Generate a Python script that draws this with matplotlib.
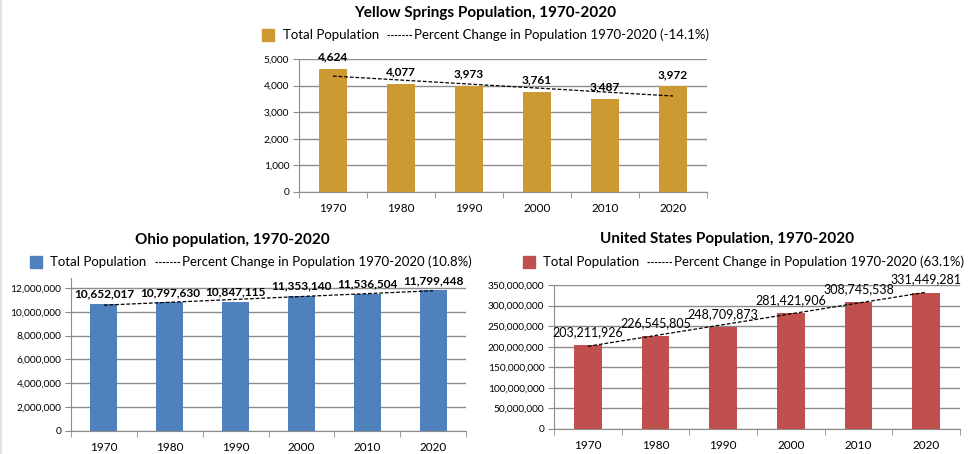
import numpy as np
import matplotlib
matplotlib.use("Agg")
import matplotlib.pyplot as plt
from matplotlib.lines import Line2D
from matplotlib.ticker import FuncFormatter, FixedLocator

plt.rcParams['font.family'] = ['Lato', 'DejaVu Sans']

years = ['1970', '1980', '1990', '2000', '2010', '2020']

ys_pop = [4624, 4077, 3973, 3761, 3487, 3972]
ohio_pop = [10652017, 10797630, 10847115, 11353140, 11536504, 11799448]
us_pop = [203211926, 226545805, 248709873, 281421906, 308745538, 331449281]

ys_change = '-14.1%'
ohio_change = '10.8%'
us_change = '63.1%'

gold = '#CC9933'
blue = '#4F81BD'
red = '#C0504D'
grid_c = '#8C8C8C'

fig = plt.figure(figsize=(9.78, 4.54), dpi=100)
# faint frame line on the left edge
fig.add_artist(Line2D([0.0015, 0.0015], [0, 1], color='#DDDDDD', lw=1.2,
                      transform=fig.transFigure))


def panel(rect, vals, color, ymax, step, title, change, tx, lx, title_y, leg_y,
          bold_labels, lab_size, off_frac):
    ax = fig.add_axes(rect)
    x = np.arange(len(vals))
    ax.bar(x, vals, width=0.41, color=color, zorder=3)
    k, b = np.polyfit(x, vals, 1)
    ax.plot([x[0], x[-1]], [b, k * x[-1] + b], color='black', lw=0.9,
            ls=(0, (3, 1.5)), zorder=4)
    off = ymax * off_frac
    for xi, v in zip(x, vals):
        ax.text(xi, v + off, f'{v:,}', ha='center', va='center', fontsize=lab_size,
                fontweight='bold' if bold_labels else 'normal', color='black', zorder=5)
    ax.set_xlim(-0.5, len(vals) - 0.5)
    ax.set_ylim(0, ymax)
    ax.set_yticks(np.arange(0, ymax + 1, step))
    ax.yaxis.set_major_formatter(FuncFormatter(lambda v, p: f'{int(v):,}'))
    ax.set_xticks(x)
    ax.set_xticklabels(years)
    ax.xaxis.set_minor_locator(FixedLocator(np.arange(-0.5, len(vals), 1.0)))
    ax.tick_params(axis='x', which='major', length=0, pad=8, labelsize=8.5)
    ax.tick_params(axis='x', which='minor', length=4, color=grid_c)
    ax.tick_params(axis='y', length=4, color=grid_c, labelsize=7.3, pad=3)
    ax.grid(axis='y', color=grid_c, lw=1, zorder=0)
    for s in ['top', 'right']:
        ax.spines[s].set_visible(False)
    for s in ['left', 'bottom']:
        ax.spines[s].set_color(grid_c)
    fig.text(tx, title_y, title, ha='center', va='center', fontsize=11, fontweight='bold')
    handles = [Line2D([], [], marker='s', ls='none', color=color, markersize=8),
               Line2D([], [], color='black', lw=0.8, ls=(0, (2.2, 1.1)))]
    labels = ['Total Population', f'Percent Change in Population 1970-2020 ({change})']
    fig.legend(handles, labels, loc='center', bbox_to_anchor=(lx, leg_y), ncol=2,
               frameon=False, fontsize=9.5, handlelength=1.9, handletextpad=0.15,
               columnspacing=0.6, borderpad=0)
    return ax


panel([0.3057, 0.5771, 0.4172, 0.293], ys_pop, gold, 5000, 1000,
      'Yellow Springs Population, 1970-2020', ys_change, 0.496, 0.493,
      1 - 13 / 454, 1 - 35 / 454, True, 8.6, 0.09)
panel([0.0726, 0.0507, 0.4039, 0.337], ohio_pop, blue, 12.84e6, 2e6,
      'Ohio population, 1970-2020', ohio_change, 0.238, 0.253,
      1 - 240 / 454, 1 - 262 / 454, True, 8.6, 0.065)
panel([0.5665, 0.0551, 0.4151, 0.3172], us_pop, red, 350e6, 50e6,
      'United States Population, 1970-2020', us_change, 0.743, 0.757,
      1 - 239 / 454, 1 - 262 / 454, False, 9, 0.09)

fig.savefig('out.png', dpi=100)
